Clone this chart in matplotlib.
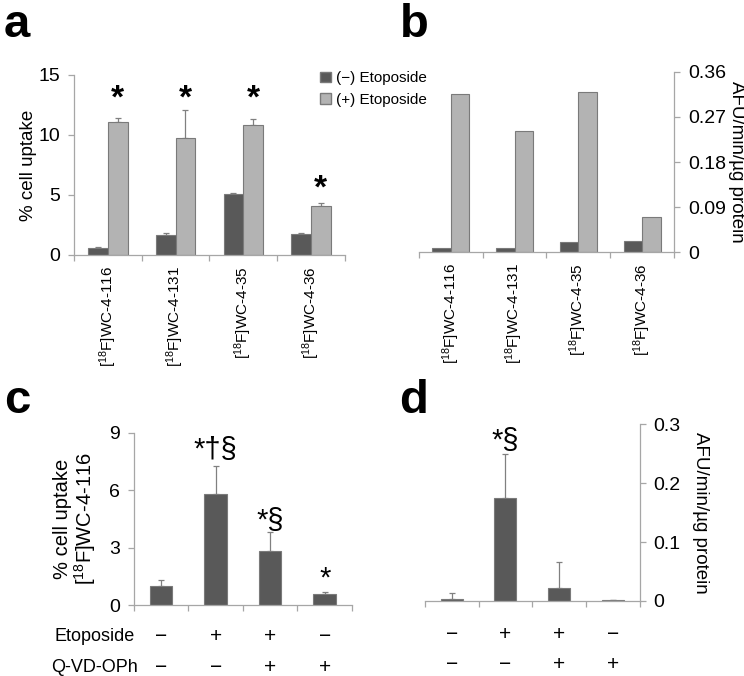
import numpy as np
import matplotlib.pyplot as plt
from matplotlib.patches import Patch

plt.rcParams['font.family'] = ['Liberation Sans', 'DejaVu Sans']
plt.rcParams['mathtext.fontset'] = 'custom'
plt.rcParams['mathtext.rm'] = 'Liberation Sans'
plt.rcParams['mathtext.it'] = 'Liberation Sans'
plt.rcParams['font.size'] = 10.5

DARK = '#595959'
LIGHT = '#b3b3b3'
EDGE = '#7a7a7a'
AXC = '#a6a6a6'

# panel a / b data
compounds = [r'[$^{18}$F]WC-4-116', r'[$^{18}$F]WC-4-131', r'[$^{18}$F]WC-4-35', r'[$^{18}$F]WC-4-36']
uptake_minus = [0.6, 1.7, 5.05, 1.75]
uptake_minus_err = [0.05, 0.15, 0.15, 0.1]
uptake_plus = [11.1, 9.75, 10.8, 4.1]
uptake_plus_err = [0.35, 2.35, 0.55, 0.25]
star_a = [13.0, 13.0, 13.0, 5.5]

afu_minus = [0.009, 0.009, 0.021, 0.023]
afu_plus = [0.315, 0.243, 0.319, 0.07]

# panel c / d data
etoposide = ['−', '+', '+', '−']
qvd = ['−', '−', '+', '+']
uptake_c = [1.02, 5.8, 2.83, 0.61]
uptake_c_err = [0.3, 1.47, 1.0, 0.08]
marks_c = ['', '*†§', '*§', '*']
marks_c_y = [0, 8.1, 4.4, 1.4]
afu_d = [0.004, 0.174, 0.0215, 0.001]
afu_d_err = [0.009, 0.076, 0.045, 0.0006]
marks_d = ['', '*§', '', '']
marks_d_y = [0, 0.272, 0, 0]


def style_axis(ax, side='left'):
    ax.spines['top'].set_visible(False)
    if side == 'left':
        ax.spines['right'].set_visible(False)
    else:
        ax.spines['left'].set_visible(False)
        ax.yaxis.tick_right()
        ax.yaxis.set_label_position('right')
    for s in ax.spines.values():
        s.set_color(AXC)
        s.set_linewidth(0.9)
    ax.tick_params(axis='y', colors=AXC, labelcolor='black', length=4, width=0.9, labelsize=14, pad=6)
    ax.set_xlim(-0.5, 3.5)
    ax.set_xticks(np.arange(-0.5, 3.6, 1.0))
    ax.set_xticks(np.arange(4), minor=True)
    ax.tick_params(axis='x', which='major', colors=AXC, length=4, width=0.9, labelbottom=False)
    ax.tick_params(axis='x', which='minor', length=0, labelsize=11, pad=8)


def bars_with_err(ax, x, vals, errs, w, color):
    ax.bar(x, vals, w, color=color, edgecolor=EDGE, linewidth=0.8, zorder=2)
    if errs is not None:
        ax.errorbar(x, vals, yerr=[np.zeros(len(vals)), errs], fmt='none',
                    ecolor='#808080', elinewidth=0.9, capsize=2, capthick=0.9, zorder=1)


fig = plt.figure(figsize=(7.44, 6.76), dpi=100)

x = np.arange(4)
bw = 0.29

# a
ax_a = fig.add_axes([0.0995, 0.6228, 0.364, 0.2663])
bars_with_err(ax_a, x - bw / 2, uptake_minus, uptake_minus_err, bw, DARK)
bars_with_err(ax_a, x + bw / 2, uptake_plus, uptake_plus_err, bw, LIGHT)
style_axis(ax_a, 'left')
ax_a.set_ylim(0, 15)
ax_a.set_yticks([0, 5, 10, 15])
ax_a.set_xticklabels(compounds, minor=True, rotation=90, va='top')
ax_a.set_ylabel('% cell uptake', fontsize=13.5, labelpad=1)
for xi, yi in zip(x + bw / 2, star_a):
    ax_a.text(xi, yi, '*', ha='center', va='center', fontsize=24, fontweight='bold')

# b
ax_b = fig.add_axes([0.563, 0.6272, 0.343, 0.2663])
bars_with_err(ax_b, x - bw / 2, afu_minus, None, bw, DARK)
bars_with_err(ax_b, x + bw / 2, afu_plus, None, bw, LIGHT)
style_axis(ax_b, 'right')
ax_b.set_ylim(0, 0.36)
ax_b.set_yticks([0, 0.09, 0.18, 0.27, 0.36])
ax_b.set_yticklabels(['0', '0.09', '0.18', '0.27', '0.36'])
ax_b.set_xticklabels(compounds, minor=True, rotation=90, va='top')
ax_b.set_ylabel('AFU/min/µg protein', fontsize=13.5, rotation=270, labelpad=14)

fig.legend(handles=[Patch(facecolor=DARK, edgecolor=EDGE, label='(−) Etoposide'),
                    Patch(facecolor=LIGHT, edgecolor=EDGE, label='(+) Etoposide')],
           loc='upper left', bbox_to_anchor=(0.412, 0.915), frameon=False, fontsize=11,
           handlelength=0.7, handleheight=0.7, handletextpad=0.3, labelspacing=0.5)

bw2 = 0.41

# c
ax_c = fig.add_axes([0.180, 0.1046, 0.293, 0.2553])
bars_with_err(ax_c, x, uptake_c, uptake_c_err, bw2, DARK)
style_axis(ax_c, 'left')
ax_c.set_ylim(0, 9)
ax_c.set_yticks([0, 3, 6, 9])
ax_c.set_ylabel('% cell uptake\n' + r'[$^{18}$F]WC-4-116', fontsize=14.5, labelpad=8, linespacing=1.0)
for xi, m, yi in zip(x, marks_c, marks_c_y):
    if m:
        ax_c.text(xi, yi, m, ha='center', va='center', fontsize=21)

# d
ax_d = fig.add_axes([0.571, 0.111, 0.289, 0.2614])
bars_with_err(ax_d, x, afu_d, afu_d_err, bw2, DARK)
style_axis(ax_d, 'right')
ax_d.set_ylim(0, 0.3)
ax_d.set_yticks([0, 0.1, 0.2, 0.3])
ax_d.set_yticklabels(['0', '0.1', '0.2', '0.3'])
ax_d.set_ylabel('AFU/min/µg protein', fontsize=13.5, rotation=270, labelpad=20)
for xi, m, yi in zip(x, marks_d, marks_d_y):
    if m:
        ax_d.text(xi, yi, m, ha='center', va='center', fontsize=21)

# treatment rows under c and d
for ax, y1, y2 in [(ax_c, -0.182, -0.363), (ax_d, -0.192, -0.362)]:
    tr = ax.get_xaxis_transform()
    for xi, e, q in zip(x, etoposide, qvd):
        ax.text(xi, y1, e, transform=tr, ha='center', va='center', fontsize=15)
        ax.text(xi, y2, q, transform=tr, ha='center', va='center', fontsize=15)
ax_c.text(-0.179, -0.182, 'Etoposide', transform=ax_c.transAxes, ha='center', va='center', fontsize=13)
ax_c.text(-0.179, -0.363, 'Q-VD-OPh', transform=ax_c.transAxes, ha='center', va='center', fontsize=13)

# panel letters
for lx, ly, s in [(0.005, 0.995, 'a'), (0.537, 0.995, 'b'), (0.005, 0.44, 'c'), (0.537, 0.44, 'd')]:
    fig.text(lx, ly, s, ha='left', va='top', fontsize=34, fontweight='bold')

fig.savefig('out.png', dpi=100)
